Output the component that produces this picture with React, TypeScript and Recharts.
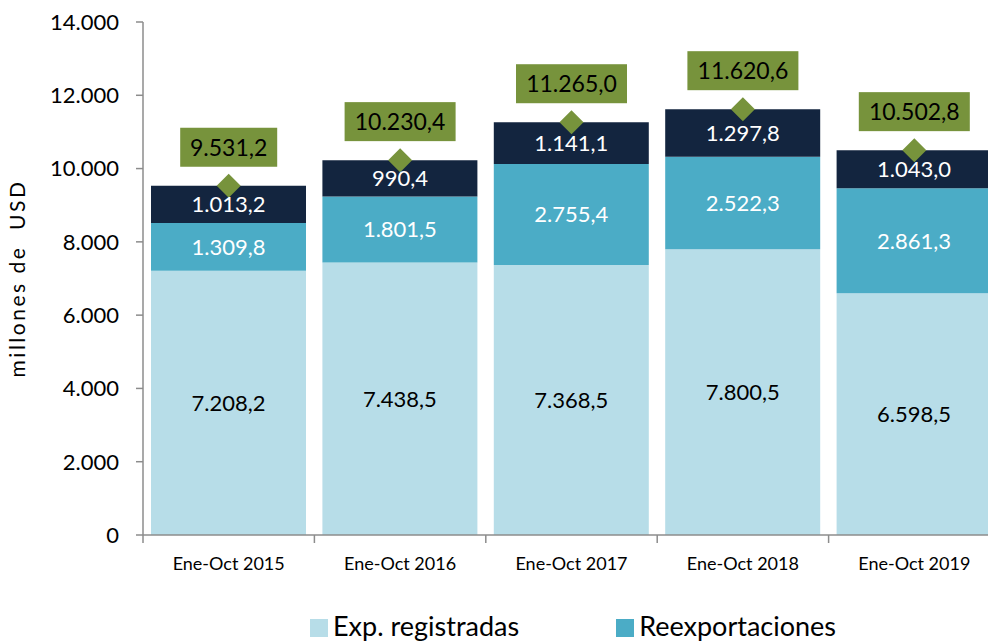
import { ComposedChart, Bar, Line, XAxis, YAxis, Legend, LabelList, Label } from 'recharts';

const periods = ['Ene-Oct 2015', 'Ene-Oct 2016', 'Ene-Oct 2017', 'Ene-Oct 2018', 'Ene-Oct 2019'];
const expRegistradas = [7208.2, 7438.5, 7368.5, 7800.5, 6598.5];
const reexportaciones = [1309.8, 1801.5, 2755.4, 2522.3, 2861.3];
const otros = [1013.2, 990.4, 1141.1, 1297.8, 1043.0];
const totales = [9531.2, 10230.4, 11265.0, 11620.6, 10502.8];
const yTicks = [0, 2000, 4000, 6000, 8000, 10000, 12000, 14000];

const FONT = 'Lato, "Noto Sans", sans-serif';
const C_EXP = '#b7dde8';
const C_REEX = '#4bacc6';
const C_OTROS = '#13253f';
const C_TOTAL = '#77933c';

const data = periods.map((p, i) => ({
  periodo: p,
  exp: expRegistradas[i],
  reex: reexportaciones[i],
  otros: otros[i],
  total: totales[i],
}));

// 1234.5 -> "1.234,5"
function fmt(v: number, dec = 1) {
  const [int, frac] = Math.abs(v).toFixed(dec).split('.');
  const withDots = int.replace(/\B(?=(\d{3})+(?!\d))/g, '.');
  return frac ? `${withDots},${frac}` : withDots;
}

function XTick(props: any) {
  const { x, y, payload } = props;
  const half = payload.offset || 0;
  return (
    <g>
      <line x1={x - half} y1={y - 8} x2={x - half} y2={y} stroke="#8c8c8c" strokeWidth={1.5} />
      <text x={x} y={y + 27} textAnchor="middle" fontFamily={FONT} fontSize={18} fill="#000">
        {payload.value}
      </text>
    </g>
  );
}

function Diamond(props: any) {
  const { cx, cy } = props;
  if (cx == null || cy == null) return null;
  const r = 12;
  return <path d={`M${cx},${cy - r} L${cx + r},${cy} L${cx},${cy + r} L${cx - r},${cy} Z`} fill={C_TOTAL} />;
}

function TotalLabel(props: any) {
  const { x, y, value } = props;
  const txt = fmt(value);
  const w = txt.length * 14 - 1;
  return (
    <g>
      <rect x={x - w / 2} y={y - 58} width={w} height={39} fill={C_TOTAL} />
      <text x={x} y={y - 30} textAnchor="middle" fontFamily={FONT} fontSize={23} fill="#000">
        {txt}
      </text>
    </g>
  );
}

function YTitle(props: any) {
  const vb = props.viewBox || {};
  const cy = (vb.y || 22) + (vb.height || 513) / 2;
  return (
    <text
      x={20}
      y={cy}
      transform={`rotate(-90, 20, ${cy})`}
      textAnchor="middle"
      dominantBaseline="middle"
      style={{ fontFamily: FONT, fontSize: 21, fill: '#000', whiteSpace: 'pre', letterSpacing: 2.5 }}
    >
      millones de{'\u00a0\u00a0'}USD
    </text>
  );
}

function LegendContent() {
  const items = [
    { name: 'Exp. registradas', color: C_EXP },
    { name: 'Reexportaciones', color: C_REEX },
  ];
  return (
    <div style={{ display: 'flex', gap: 97, height: 42, alignItems: 'center', paddingLeft: 310, paddingTop: 4, boxSizing: 'border-box' }}>
      {items.map((it) => (
        <div key={it.name} style={{ display: 'flex', alignItems: 'center', fontFamily: FONT, fontSize: 27, color: '#000', whiteSpace: 'nowrap' }}>
          <span style={{ width: 18, height: 18, background: it.color, display: 'inline-block', marginRight: 5, marginTop: 5 }} />
          {it.name}
        </div>
      ))}
    </div>
  );
}

export default function App() {
  return (
    <div style={{ position: 'fixed', left: 0, top: 0, width: 988, height: 644, overflow: 'hidden', background: '#fff' }}>
      <ComposedChart
        width={1005}
        height={644}
        data={data}
        margin={{ top: 22, right: 5, bottom: 0, left: 0 }}
        barCategoryGap={8}
      >
        <YAxis
          width={143}
          domain={[0, 14000]}
          ticks={yTicks}
          interval={0}
          tickFormatter={(v) => fmt(v, 0)}
          tick={{ fontFamily: FONT, fontSize: 22, fill: '#000' }}
          tickSize={7}
          tickMargin={17}
          axisLine={{ stroke: '#8c8c8c', strokeWidth: 1.5 }}
          tickLine={{ stroke: '#8c8c8c', strokeWidth: 1.5 }}
        >
          <Label content={<YTitle />} />
        </YAxis>
        <XAxis
          dataKey="periodo"
          height={67}
          interval={0}
          tickLine={false}
          tick={<XTick />}
          axisLine={{ stroke: '#8c8c8c', strokeWidth: 1.5 }}
        />
        <Legend verticalAlign="bottom" content={<LegendContent />} />
        <Bar dataKey="exp" name="Exp. registradas" stackId="a" fill={C_EXP} isAnimationActive={false}>
          <LabelList dataKey="exp" position="center" formatter={(v: any) => fmt(Number(v))} fill="#000" fontFamily={FONT} fontSize={22} />
        </Bar>
        <Bar dataKey="reex" name="Reexportaciones" stackId="a" fill={C_REEX} isAnimationActive={false}>
          <LabelList dataKey="reex" position="center" formatter={(v: any) => fmt(Number(v))} fill="#fff" fontFamily={FONT} fontSize={22} />
        </Bar>
        <Bar dataKey="otros" name="Otros" stackId="a" fill={C_OTROS} isAnimationActive={false}>
          <LabelList dataKey="otros" position="center" formatter={(v: any) => fmt(Number(v))} fill="#fff" fontFamily={FONT} fontSize={22} />
        </Bar>
        <Line
          dataKey="total"
          name="Total"
          stroke="none"
          dot={<Diamond />}
          activeDot={false}
          isAnimationActive={false}
        >
          <LabelList dataKey="total" content={<TotalLabel />} />
        </Line>
      </ComposedChart>
    </div>
  );
}
